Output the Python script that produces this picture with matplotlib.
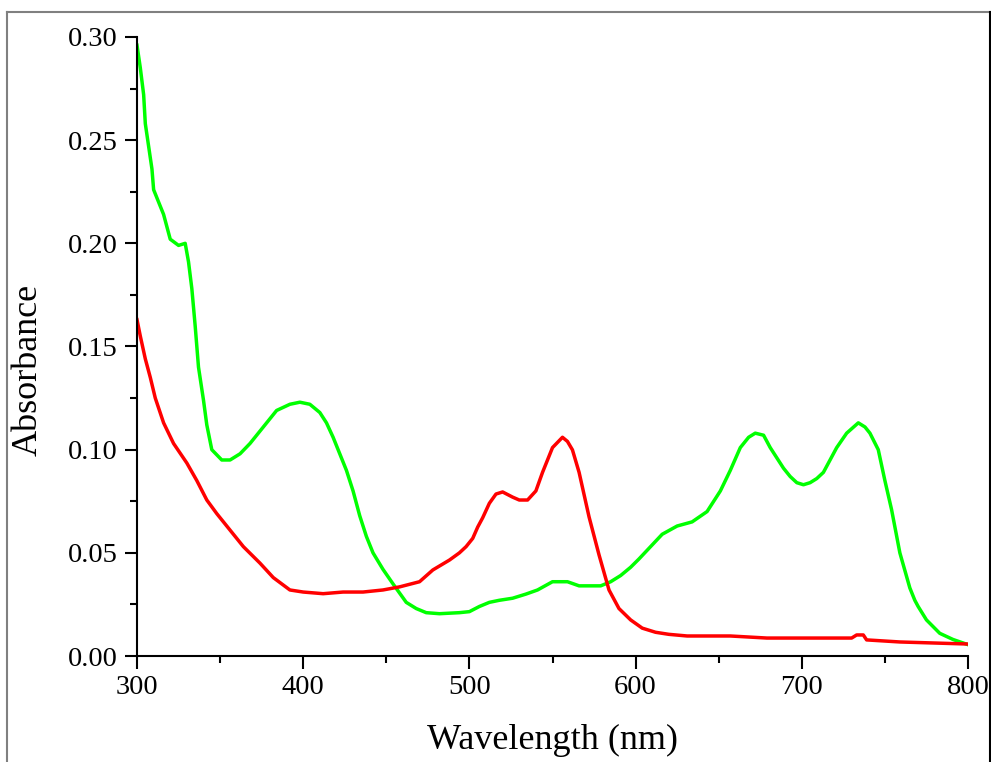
import matplotlib
matplotlib.use('Agg')
import matplotlib.pyplot as plt
from matplotlib.lines import Line2D
from matplotlib.ticker import MultipleLocator

plt.rcParams['font.family'] = ['Liberation Serif', 'DejaVu Serif']

# green spectrum
wl_green = [300, 302, 304, 305, 307, 309, 310, 316, 320, 325, 329, 331, 333, 335, 337,
            340, 342, 345, 351, 356, 362, 368, 376, 384, 392, 398, 404, 410, 414, 418,
            422, 426, 430, 434, 438, 442, 448, 454, 462, 468, 474, 482, 494, 500, 506,
            512, 518, 526, 534, 541, 550, 559, 566, 572, 579, 585, 591, 597, 602, 609,
            616, 625, 634, 643, 647, 651, 657, 663, 668, 672, 677, 681, 685, 689, 693,
            697, 701, 705, 709, 713, 717, 721, 727, 734, 738, 741, 746, 750, 754, 759,
            765, 768, 770, 775, 783, 791, 800]
abs_green = [0.296, 0.285, 0.272, 0.258, 0.247, 0.236, 0.226, 0.214, 0.202, 0.199, 0.200,
             0.191, 0.178, 0.160, 0.140, 0.124, 0.112, 0.100, 0.095, 0.095, 0.098, 0.103,
             0.111, 0.119, 0.122, 0.123, 0.122, 0.118, 0.113, 0.106, 0.098, 0.090, 0.080,
             0.068, 0.058, 0.050, 0.042, 0.035, 0.026, 0.023, 0.021, 0.0205, 0.021, 0.0215,
             0.024, 0.026, 0.027, 0.028, 0.030, 0.032, 0.036, 0.036, 0.034, 0.034, 0.034,
             0.036, 0.039, 0.043, 0.047, 0.053, 0.059, 0.063, 0.065, 0.070, 0.075, 0.080,
             0.090, 0.101, 0.106, 0.108, 0.107, 0.101, 0.096, 0.091, 0.087, 0.084, 0.083,
             0.084, 0.086, 0.089, 0.095, 0.101, 0.108, 0.113, 0.111, 0.108, 0.100, 0.085,
             0.071, 0.050, 0.033, 0.027, 0.024, 0.0175, 0.011, 0.008, 0.0055]

# red spectrum
wl_red = [300, 302, 305, 308, 311, 316, 322, 330, 336, 342, 348, 356, 364, 374, 382,
          392, 400, 412, 424, 436, 448, 458, 470, 478, 488, 494, 498, 502, 505, 508,
          512, 516, 520, 526, 530, 535, 540, 544, 550, 556, 559, 562, 566, 572, 578,
          584, 590, 597, 604, 612, 620, 631, 657, 679, 730, 733, 737, 739, 759, 800]
abs_red = [0.163, 0.155, 0.144, 0.135, 0.125, 0.113, 0.103, 0.0935, 0.085, 0.0756, 0.069,
           0.061, 0.053, 0.045, 0.038, 0.032, 0.031, 0.0302, 0.031, 0.031, 0.032, 0.0335,
           0.036, 0.0417, 0.0465, 0.050, 0.053, 0.057, 0.0625, 0.067, 0.074, 0.0785, 0.0795,
           0.077, 0.0756, 0.0756, 0.080, 0.089, 0.101, 0.106, 0.104, 0.0999, 0.089, 0.0674,
           0.049, 0.032, 0.023, 0.0175, 0.0135, 0.0115, 0.0105, 0.0097, 0.0097, 0.0087,
           0.0087, 0.0102, 0.0102, 0.0078, 0.0068, 0.0058]

fig = plt.figure(figsize=(9.91, 7.62), dpi=100)
ax = fig.add_axes([137/991, 1-656/762, 831/991, 619/762])

ax.plot(wl_green, abs_green, color='#00ff00', lw=2.5)
ax.plot(wl_red, abs_red, color='#ff0000', lw=2.5)

ax.set_xlim(300, 800)
ax.set_ylim(0, 0.30)
ax.xaxis.set_major_locator(MultipleLocator(100))
ax.xaxis.set_minor_locator(MultipleLocator(50))
ax.yaxis.set_major_locator(MultipleLocator(0.05))
ax.yaxis.set_minor_locator(MultipleLocator(0.025))
ax.yaxis.set_major_formatter(matplotlib.ticker.FormatStrFormatter('%.2f'))

for s in ['top', 'right']:
    ax.spines[s].set_visible(False)
for s in ['left', 'bottom']:
    ax.spines[s].set_linewidth(1.5)

ax.tick_params(which='major', direction='out', length=9, width=1.5, labelsize=20.5, pad=5)
ax.tick_params(which='minor', direction='out', length=5, width=1.5)

ax.set_xlabel('Wavelength (nm)', fontsize=26, labelpad=17)
ax.set_ylabel('Absorbance', fontsize=26)
ax.yaxis.set_label_coords(-0.111, 0.462)

# outer frame of the picture
fig.add_artist(Line2D([7/991, 7/991], [0, 1-12/762], transform=fig.transFigure, color='#808080', lw=1.5))
fig.add_artist(Line2D([7/991, 990/991], [1-12/762, 1-12/762], transform=fig.transFigure, color='#808080', lw=1.5))
fig.add_artist(Line2D([990/991, 990/991], [0, 1-12/762], transform=fig.transFigure, color='black', lw=1.5))

fig.savefig('out.png', dpi=100)
